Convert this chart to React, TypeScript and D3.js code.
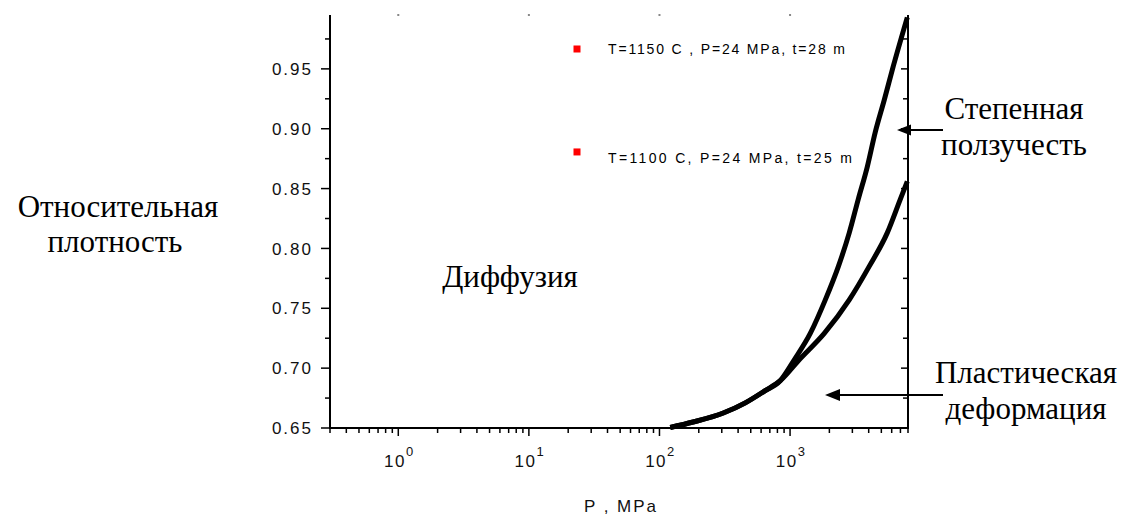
import React from "react";
import * as d3 from "d3";

// Data
const p1150 = [121, 181, 308, 454, 640, 841, 1077, 1428, 1861, 2345, 2839, 3327, 3898, 4488, 5263, 6166, 7900];
const d1150 = [0.6504, 0.655, 0.6625, 0.671, 0.681, 0.6895, 0.707, 0.729, 0.757, 0.785, 0.813, 0.841, 0.868, 0.897, 0.924, 0.952, 0.993];
const p1100 = [121, 181, 308, 454, 640, 841, 1175, 1828, 2839, 4038, 5550, 6982, 7900];
const d1100 = [0.6504, 0.655, 0.6625, 0.671, 0.681, 0.6895, 0.707, 0.729, 0.757, 0.785, 0.813, 0.841, 0.856];

const yTickValues = [0.65, 0.7, 0.75, 0.8, 0.85, 0.9, 0.95];
const yTickLabels = ["0.65", "0.70", "0.75", "0.80", "0.85", "0.90", "0.95"];
const yMinorValues = [0.675, 0.725, 0.775, 0.825, 0.875, 0.925, 0.975];
const xMajorExps = [0, 1, 2, 3];
const legendLabels = ["T=1150 C , P=24 MPa, t=28 m", "T=1100 C, P=24 MPa, t=25 m"];
const legendDensity = [0.9666, 0.8806];
const xTitle = "P , MPa";
const yTitle = ["Относительная", "плотность"];
const regionLabel = "Диффузия";
const creepLabel = ["Степенная", "ползучесть"];
const plasticLabel = ["Пластическая", "деформация"];

const W = 1124;
const H = 518;

export default function App() {
  const x = d3.scaleLog().domain([0.3, 8000]).range([330, 908]);
  const y = d3.scaleLinear().domain([0.65, 0.995]).range([428, 15]);
  const [x0, x1] = x.range();
  const [y0, y1] = y.range();

  const line = d3
    .line<[number, number]>()
    .x((d) => x(d[0]))
    .y((d) => y(d[1]))
    .curve(d3.curveMonotoneX);

  const s1150: [number, number][] = p1150.map((p, i) => [p, d1150[i]]);
  const s1100: [number, number][] = p1100.map((p, i) => [p, d1100[i]]);

  const xMinor: number[] = [];
  for (let e = -1; e <= 3; e++) {
    for (let m = 2; m <= 9; m++) {
      const v = m * Math.pow(10, e);
      if (v >= 0.3 && v <= 8000) xMinor.push(v);
    }
  }

  const sans = "'Liberation Sans', Arial, sans-serif";
  const serif = "'Liberation Serif', 'Times New Roman', serif";
  const big = 31;

  return (
    <svg
      width={W}
      height={H}
      style={{ position: "absolute", left: 0, top: 0, background: "#fff" }}
    >
      <rect x={0} y={0} width={W} height={H} fill="#fff" />
      {/* curves */}
      <path d={line(s1100) || ""} fill="none" stroke="#000" strokeWidth={5} strokeLinejoin="round" />
      <path d={line(s1150) || ""} fill="none" stroke="#000" strokeWidth={5} strokeLinejoin="round" />

      {/* axes */}
      <line x1={x0} x2={x0} y1={y1} y2={y0 + 1} stroke="#000" strokeWidth={2} />
      <line x1={x1} x2={x1} y1={y1} y2={y0 + 1} stroke="#000" strokeWidth={2} />
      <line x1={x0 - 1} x2={x1 + 1} y1={y0} y2={y0} stroke="#000" strokeWidth={2} />

      {/* y ticks */}
      {yTickValues.map((v, i) => (
        <g key={"yt" + i}>
          <line x1={x0 - 9} x2={x0} y1={y(v)} y2={y(v)} stroke="#000" strokeWidth={1.5} />
          <line x1={x1 - 7} x2={x1} y1={y(v)} y2={y(v)} stroke="#000" strokeWidth={1.5} />
          <text
            x={313}
            y={y(v)}
            dy="0.36em"
            textAnchor="end"
            fontFamily={sans}
            fontSize={17}
            letterSpacing={2}
            fill="#111"
          >
            {yTickLabels[i]}
          </text>
        </g>
      ))}
      {yMinorValues.map((v, i) => (
        <g key={"ym" + i}>
          <line x1={x0 - 5} x2={x0} y1={y(v)} y2={y(v)} stroke="#000" strokeWidth={1.5} />
          <line x1={x1 - 5} x2={x1} y1={y(v)} y2={y(v)} stroke="#000" strokeWidth={1.5} />
        </g>
      ))}

      {/* x ticks */}
      {xMajorExps.map((e) => {
        const v = Math.pow(10, e);
        return (
          <g key={"xt" + e}>
            <line x1={x(v)} x2={x(v)} y1={y0} y2={y0 + 8} stroke="#000" strokeWidth={1.5} />
            <rect x={x(v) - 1} y={y1 - 1} width={2} height={2} fill="#888" />
            <text x={x(v) + 1} y={467} textAnchor="middle" fontFamily={sans} fontSize={17} letterSpacing={1.5} fill="#111">
              {"10"}
              <tspan fontSize={13} dy={-11}>
                {String(e)}
              </tspan>
            </text>
          </g>
        );
      })}
      {xMinor.map((v, i) => (
        <line key={"xm" + i} x1={x(v)} x2={x(v)} y1={y0} y2={y0 + 5} stroke="#000" strokeWidth={1.5} />
      ))}

      {/* x title */}
      <text x={621} y={512} textAnchor="middle" fontFamily={sans} fontSize={17} letterSpacing={2} fill="#111">
        {xTitle}
      </text>

      {/* legend-like markers */}
      {legendLabels.map((lab, i) => (
        <g key={"lg" + i}>
          <rect x={573.5} y={y(legendDensity[i]) - 3.5} width={7} height={7} fill="#ff0000" />
          <text
            x={608}
            y={[49, 158][i]}
            dy="0.36em"
            fontFamily={sans}
            fontSize={14}
            textLength={[237, 244][i]}
            lengthAdjust="spacing"
            fill="#000"
          >
            {lab}
          </text>
        </g>
      ))}

      {/* y title */}
      <text x={118} y={217} textAnchor="middle" fontFamily={serif} fontSize={big} fill="#000">
        {yTitle[0]}
      </text>
      <text x={115} y={252} textAnchor="middle" fontFamily={serif} fontSize={big} fill="#000">
        {yTitle[1]}
      </text>

      {/* region label */}
      <text x={510} y={287} textAnchor="middle" fontFamily={serif} fontSize={big} fill="#000">
        {regionLabel}
      </text>

      {/* creep annotation */}
      <text x={1014} y={119} textAnchor="middle" fontFamily={serif} fontSize={big} fill="#000">
        {creepLabel[0]}
      </text>
      <text x={1014} y={155} textAnchor="middle" fontFamily={serif} fontSize={big} fill="#000">
        {creepLabel[1]}
      </text>
      <line x1={906} x2={943} y1={130} y2={130} stroke="#000" strokeWidth={2} />
      <polygon points="897,130 911,124.5 911,135.5" fill="#000" />

      {/* plastic annotation */}
      <text x={1026} y={383} textAnchor="middle" fontFamily={serif} fontSize={big} fill="#000">
        {plasticLabel[0]}
      </text>
      <text x={1026} y={419} textAnchor="middle" fontFamily={serif} fontSize={big} fill="#000">
        {plasticLabel[1]}
      </text>
      <line x1={836} x2={943} y1={395} y2={395} stroke="#000" strokeWidth={2} />
      <polygon points="825,395 840,389 840,401" fill="#000" />
    </svg>
  );
}
